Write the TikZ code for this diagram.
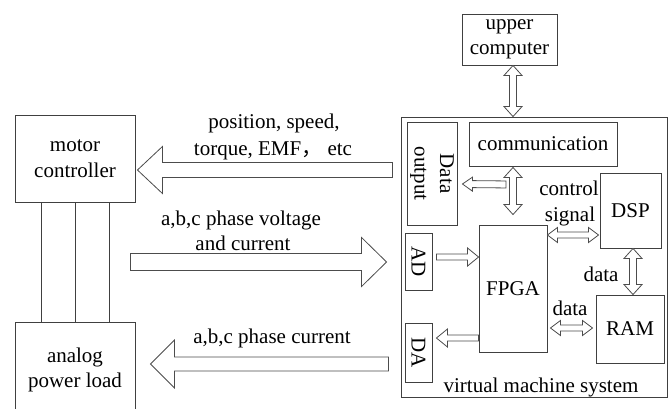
\documentclass[tikz,border=0pt]{standalone}
\usepackage{fontspec}
\setmainfont{Liberation Serif}
\newfontfamily\cjkfont{Noto Sans CJK SC}
\usetikzlibrary{calc}
\tikzset{
  box/.style={draw=black!75, line width=0.9pt, inner sep=0pt, align=center},
  wire/.style={draw=black!75, line width=0.9pt},
  arrowbox/.style={draw=black!70, line width=0.8pt, fill=white, line join=miter},
  lbl/.style={inner sep=0pt, anchor=base},
}
% single block arrow: #1 shaft half width, #2 head half width, #3 head length, #4 from, #5 to (tip)
\newcommand\bkarrow[5]{%
  \path[arrowbox] let \p1=(#4), \p2=(#5), \n1={atan2(\y2-\y1,\x2-\x1)}, \n2={veclen(\x2-\x1,\y2-\y1)-#3} in
    ($(\p1)+(\n1+90:#1)$) -- ($(\p1)+(\n1:\n2)+(\n1+90:#1)$) -- ($(\p1)+(\n1:\n2)+(\n1+90:#2)$)
    -- (\p2) -- ($(\p1)+(\n1:\n2)+(\n1-90:#2)$) -- ($(\p1)+(\n1:\n2)+(\n1-90:#1)$)
    -- ($(\p1)+(\n1-90:#1)$) -- cycle;}
% double block arrow
\newcommand\dbarrow[5]{%
  \path[arrowbox] let \p1=(#4), \p2=(#5), \n1={atan2(\y2-\y1,\x2-\x1)}, \n2={veclen(\x2-\x1,\y2-\y1)-#3} in
    (\p1) -- ($(\p1)+(\n1:#3)+(\n1+90:#2)$) -- ($(\p1)+(\n1:#3)+(\n1+90:#1)$)
    -- ($(\p1)+(\n1:\n2)+(\n1+90:#1)$) -- ($(\p1)+(\n1:\n2)+(\n1+90:#2)$) -- (\p2)
    -- ($(\p1)+(\n1:\n2)+(\n1-90:#2)$) -- ($(\p1)+(\n1:\n2)+(\n1-90:#1)$)
    -- ($(\p1)+(\n1:#3)+(\n1-90:#1)$) -- ($(\p1)+(\n1:#3)+(\n1-90:#2)$) -- cycle;}
\begin{document}
\begin{tikzpicture}[x=1pt, y=-1pt, font=\fontsize{21}{25.5}\selectfont]
\useasboundingbox (0,0) rectangle (669,408);

% left blocks
\node[box, minimum width=120pt, minimum height=87pt] (mc) at (75,158.5) {motor\\controller};
\node[box, minimum width=120pt, minimum height=96pt] (apl) at (75,370) {analog\\power load};
\draw[wire] ([xshift=27pt]mc.south west) -- ([xshift=27pt]apl.north west);
\draw[wire] ([xshift=61pt]mc.south west) -- ([xshift=61pt]apl.north west);
\draw[wire] ([xshift=95pt]mc.south west) -- ([xshift=95pt]apl.north west);

% right blocks
\node[box, minimum width=95pt, minimum height=51pt] (uc) at (509.5,39.5) {upper\\computer};
\node[box, minimum width=266pt, minimum height=280pt] (vms) at (534,257) {};
\node[lbl] (vmslbl) at (541,392) {virtual machine system};
\node[box, minimum width=148pt, minimum height=44pt] (comm) at (543,144) {communication};
\node[box, rotate=-90, minimum width=103pt, minimum height=50pt] (dout) at (432,173.5) {Data\\output};
\node[box, rotate=-90, minimum width=57pt, minimum height=27pt] (ad) at (418.5,261.5) {AD};
\node[box, rotate=-90, minimum width=59pt, minimum height=27pt] (da) at (418.5,352.5) {DA};
\node[box, minimum width=68pt, minimum height=127pt] (fpga) at (513,288.5) {FPGA};
\node[box, minimum width=61pt, minimum height=75pt] (dsp) at (630.5,210.5) {DSP};
\node[box, minimum width=68pt, minimum height=68pt] (ram) at (630,329) {RAM};

% big arrows
\bkarrow{7.5pt}{23.5pt}{25pt}{$(vms.west)+(-8,-87)$}{$(mc.east)+(2,11.5)$}
\bkarrow{8.5pt}{24.5pt}{25pt}{$(mc.east)+(-5,103.5)$}{$(vms.west)+(-14,5)$}
\bkarrow{7pt}{24pt}{24pt}{$(vms.west)+(-12,107)$}{$(apl.east)+(15,-6)$}

% big arrow labels
\node[lbl] (t1a) at (274,128) {position, speed,};
\node[lbl] (t1b) at (273,155) {torque, EMF{\cjkfont ，} etc};
\node[lbl] (t2a) at (241,225) {a,b,c phase voltage};
\node[lbl] (t2b) at (243,250) {and current};
\node[lbl] (t3) at (272,343) {a,b,c phase current};

% inner arrows
\dbarrow{3.5pt}{9pt}{10pt}{$(uc.south)+(3.5,0)$}{$(vms.north)+(-21,0)$}
\dbarrow{3.5pt}{9pt}{10pt}{$(comm.south)+(-30,1)$}{$(fpga.north)+(0,-10)$}
\bkarrow{3.5pt}{7pt}{10pt}{$(comm.south)+(-37,18)$}{$(dout.north)+(5,10.5)$}
\bkarrow{3pt}{9pt}{11pt}{$(ad.north)+(4,-4.5)$}{$(fpga.west)+(0,-31.5)$}
\bkarrow{3pt}{9pt}{11pt}{$(fpga.west)+(0,49.5)$}{$(da.north)+(4,-14.5)$}
\dbarrow{3pt}{7.5pt}{10pt}{$(fpga.east)+(0,-53.5)$}{$(dsp.west)+(-1,24.5)$}
\dbarrow{3.5pt}{9pt}{10pt}{$(dsp.south)+(2.5,0)$}{$(ram.north)+(3,0)$}
\dbarrow{3pt}{7.5pt}{10pt}{$(fpga.east)+(3,39.5)$}{$(ram.west)+(-3,-1)$}

% inner labels
\node[lbl] (t4a) at (569,195) {control};
\node[lbl] (t4b) at (570,221) {signal};
\node[lbl] (t5) at (601,281) {data};
\node[lbl] (t6) at (570,315) {data};
\end{tikzpicture}
\end{document}
